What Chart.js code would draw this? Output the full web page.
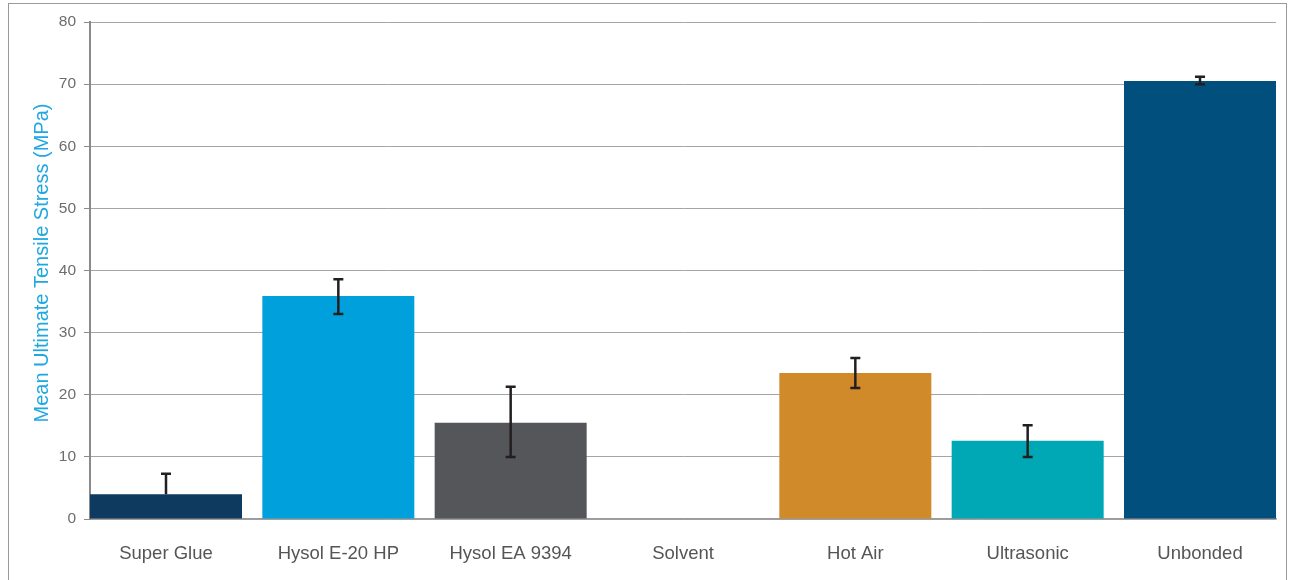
<!DOCTYPE html>
<html><head><meta charset="utf-8">
<script src="https://cdn.jsdelivr.net/npm/chart.js@4/dist/chart.umd.min.js"></script>
<style>
html,body{margin:0;padding:0;background:#fff;}
#wrap{position:absolute;left:0;top:0;width:1294px;height:580px;}
#frame{position:absolute;left:8px;top:3px;width:1277px;height:600px;border:1px solid #9a9a9a;pointer-events:none;}
</style></head>
<body>
<div id="wrap"><canvas id="c" width="1294" height="580"></canvas></div>
<div id="frame"></div>
<script>
const categories = ["Super Glue","Hysol E-20 HP","Hysol EA 9394","Solvent","Hot Air","Ultrasonic","Unbonded"];
const meanStress = [4.0, 35.9, 15.5, 0, 23.5, 12.6, 70.5];
const errLow  = [4.0, 33.0, 10.0, null, 21.1, 10.0, 70.0];
const errHigh = [7.3, 38.6, 21.3, null, 25.9, 15.1, 71.2];
const barColors = ["#0d3a5e","#00a0dc","#55565a","#55565a","#d08a2a","#00a7b5","#004f7c"];
const yTicks = [0,10,20,30,40,50,60,70,80];
const yTitle = "Mean Ultimate Tensile Stress (MPa)";

const FONT = '"Liberation Sans", Arial, sans-serif';

const errorBars = {
  id:'errorBars',
  afterDatasetsDraw(chart){
    const ctx = chart.ctx, xs = chart.scales.x, ys = chart.scales.y;
    ctx.save();
    ctx.strokeStyle = '#231f20';
    ctx.lineWidth = 2.5;
    categories.forEach((c,i)=>{
      if(errLow[i]==null) return;
      const x = xs.getPixelForValue(i);
      const y1 = ys.getPixelForValue(errLow[i]);
      const y2 = ys.getPixelForValue(errHigh[i]);
      ctx.beginPath();
      ctx.moveTo(x,y1); ctx.lineTo(x,y2);
      ctx.moveTo(x-5,y2); ctx.lineTo(x+5,y2);
      if(errLow[i] < meanStress[i]){ ctx.moveTo(x-5,y1); ctx.lineTo(x+5,y1); }
      ctx.stroke();
    });
    ctx.restore();
  }
};
const yTitlePlugin = {
  id:'yTitlePlugin',
  afterDraw(chart){
    const ctx = chart.ctx;
    ctx.save();
    ctx.translate(42, 263);
    ctx.rotate(-Math.PI/2);
    ctx.fillStyle = '#1ea7e0';
    ctx.font = '20px ' + FONT;
    ctx.textAlign = 'center';
    ctx.textBaseline = 'middle';
    ctx.fillText(yTitle, 0, 0);
    ctx.restore();
  }
};

new Chart(document.getElementById('c'), {
  type:'bar',
  data:{datasets:[{
    data:meanStress.map((v,i)=>({x:i, y:v})),
    backgroundColor:barColors, barPercentage:0.882, categoryPercentage:1.0
  }]},
  options:{
    responsive:false, animation:false,
    layout:{padding:{left:0,right:18,top:22,bottom:0}},
    plugins:{legend:{display:false}, tooltip:{enabled:false}},
    scales:{
      x:{
        type:'linear', min:-0.441, max:6.441, offset:false,
        afterBuildTicks(s){ s.ticks = categories.map((c,i)=>({value:i})); },
        grid:{display:false, drawTicks:false, offset:false},
        border:{display:true, color:'#9a9a9a', width:1.5},
        ticks:{color:'#555', font:{size:18.5, family:FONT}, padding:24, maxRotation:0, autoSkip:false,
               callback:(v)=>categories[v]},
        afterFit(s){ s.height = 61; }
      },
      y:{
        min:0, max:80,
        afterBuildTicks(s){ s.ticks = yTicks.map(v=>({value:v})); },
        grid:{color:'#a5a5a5', lineWidth:1, drawTicks:true, tickLength:6, tickColor:'#8a8a8a'},
        border:{display:true, color:'#8a8a8a', width:2},
        ticks:{color:'#6d6d6d', font:{size:15.5, family:FONT}, padding:8},
        afterFit(s){ s.width = 90; }
      }
    }
  },
  plugins:[errorBars, yTitlePlugin]
});
</script>
</body></html>
